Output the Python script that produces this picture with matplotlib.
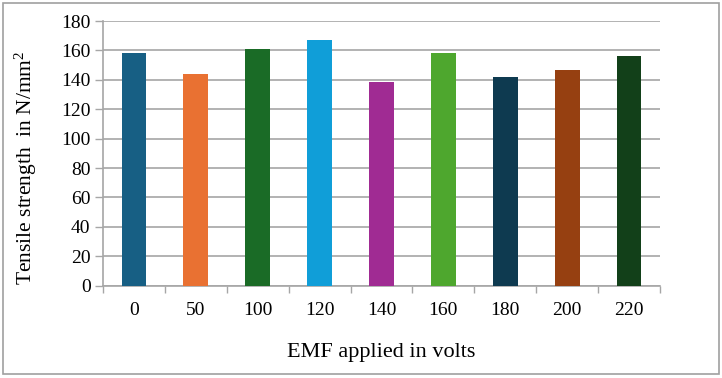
import matplotlib
matplotlib.use("Agg")
import matplotlib.pyplot as plt
from matplotlib.patches import Rectangle
import numpy as np

categories = ["0", "50", "100", "120", "140", "160", "180", "200", "220"]
values = [158, 144, 161, 167, 138.5, 158.5, 141.7, 146.5, 156.5]
colors = ["#175F84", "#E97132", "#1A6B26", "#109ED8", "#A02B93",
          "#4EA72E", "#0E3A50", "#964011", "#124019"]
yticks = [0, 20, 40, 60, 80, 100, 120, 140, 160, 180]

plt.rcParams['font.family'] = ['Liberation Serif', 'DejaVu Serif']
plt.rcParams['mathtext.fontset'] = 'custom'
plt.rcParams['mathtext.rm'] = 'Liberation Serif'

fig = plt.figure(figsize=(7.22, 3.78), dpi=100)
ax = fig.add_axes([103/722, 1 - 285.7/378, (660-103)/722, (285.7-21)/378])

x = np.arange(len(categories))
ax.bar(x, values, width=0.4, color=colors, zorder=3)

ax.set_xlim(-0.5, len(categories) - 0.5)
ax.set_ylim(0, 180)
ax.set_yticks(yticks)
ax.yaxis.grid(True, color="#A6A6A6", linewidth=1.2, zorder=0)
ax.tick_params(axis='y', length=6, color="#A6A6A6", labelsize=14, pad=3, width=1)

ax.set_xticks(x)
ax.set_xticklabels(categories, fontsize=14)
ax.tick_params(axis='x', length=0, pad=12)
ax.set_xticks(np.arange(-0.5, len(categories), 1.0), minor=True)
ax.tick_params(axis='x', which='minor', length=5, color="#A6A6A6", width=1)

for s in ['top', 'right']:
    ax.spines[s].set_visible(False)
ax.spines['left'].set_color("#A6A6A6")
ax.spines['bottom'].set_color("#A6A6A6")
ax.spines['left'].set_linewidth(1.2)
ax.spines['bottom'].set_linewidth(1.2)

ax.set_ylabel("Tensile strength  in N/mm$\\mathregular{^2}$", fontsize=15.5)
ax.yaxis.set_label_coords(-(103 - 26) / 557, (285.7 - 168) / 264.7)
ax.set_xlabel("EMF applied in volts", fontsize=16)
ax.xaxis.set_label_coords(0.5, -(353 - 285.7) / 264.7)
ax.xaxis.label.set_verticalalignment('center')
ax.yaxis.label.set_verticalalignment('center')

fig.patches.append(Rectangle((2.5/722, 4/378), 716/722, 371/378, transform=fig.transFigure,
                             fill=False, edgecolor="#A0A0A0", linewidth=1.2))

fig.savefig("out.png", dpi=100)
